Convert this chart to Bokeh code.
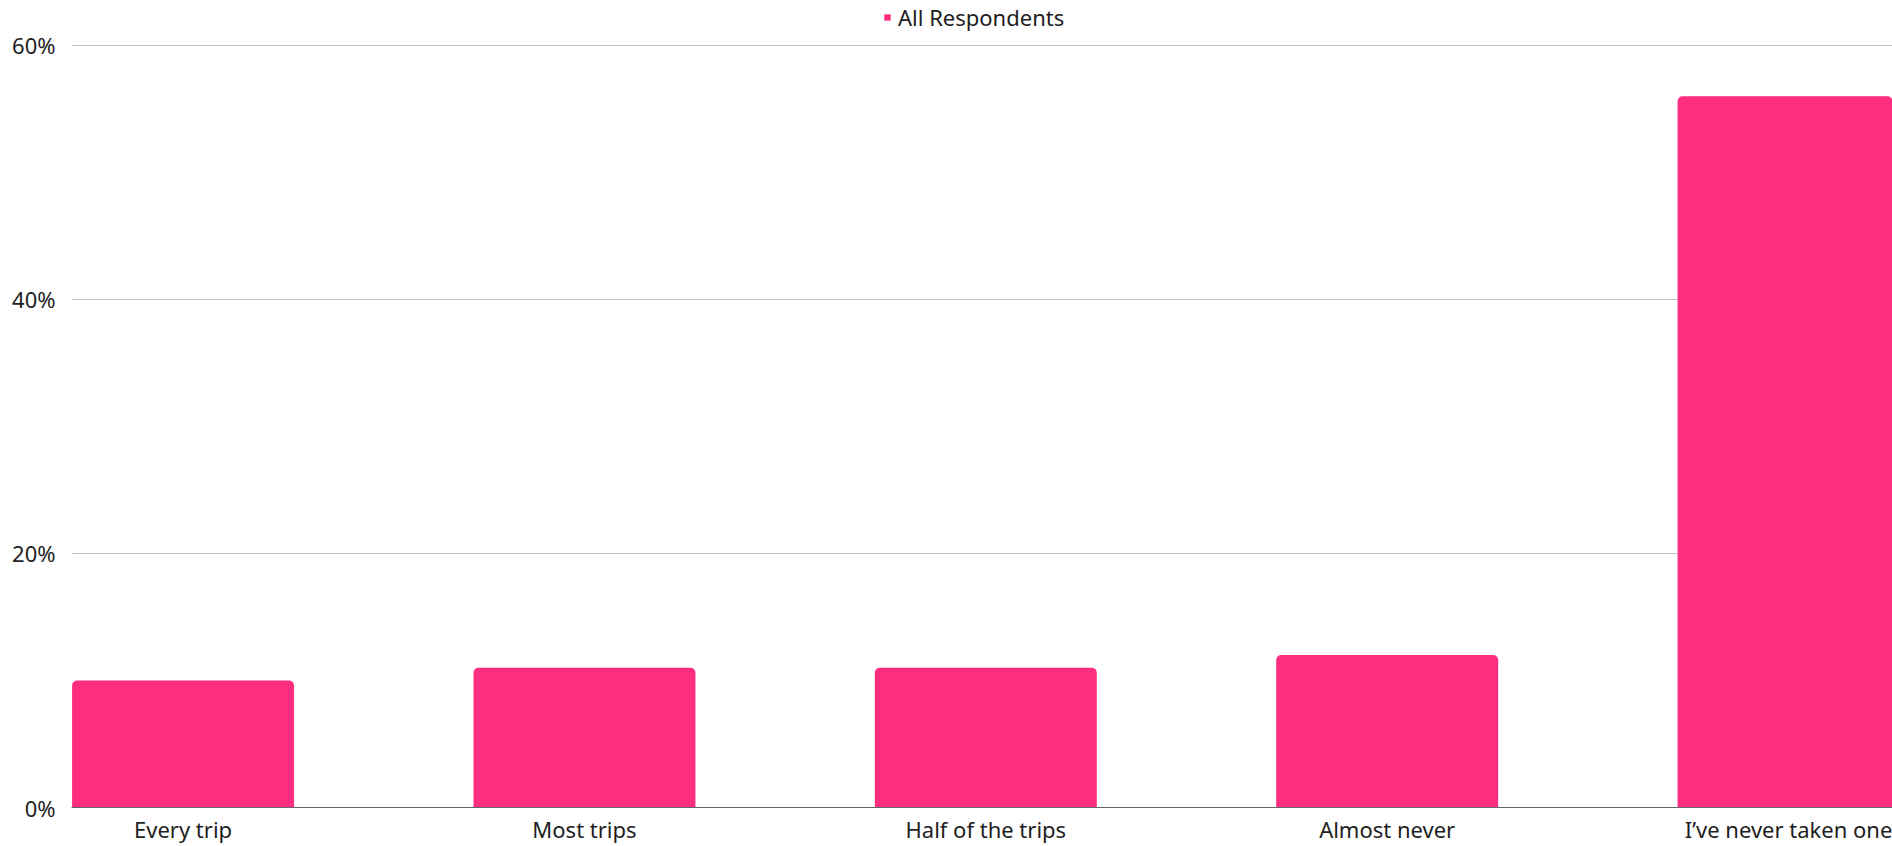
from bokeh.plotting import figure
from bokeh.models import ColumnDataSource, Range1d, FixedTicker, Legend, LegendItem
from bokeh.embed import file_html
from bokeh.resources import INLINE

categories = ["Every trip", "Most trips", "Half of the trips", "Almost never", "I\u2019ve never taken one"]
values = [10, 11, 11, 12, 56]
series_name = "All Respondents"
y_ticks = [0, 20, 40, 60]

FONT = "Noto Sans"
FS = "22px"
PINK = "#ff2d80"
TEXT = "#1e1e1e"

src = ColumnDataSource(dict(x=list(range(len(categories))), top=values, cat=categories))

p = figure(width=1892, height=846, output_backend="svg", toolbar_location=None,
           x_range=Range1d(-0.278, 4.259), y_range=Range1d(0, 63.54),
           min_border_left=71, min_border_right=0, min_border_top=0, min_border_bottom=39)
p.outline_line_color = None
p.background_fill_color = "white"
p.border_fill_color = "white"

r = p.vbar(x="x", top="top", width=0.553, bottom=0, source=src, fill_color=PINK, line_color=None,
           border_radius=(5, 5, 0, 0))

# axes
p.xaxis.ticker = FixedTicker(ticks=list(range(len(categories))))
p.xaxis.major_label_overrides = {i: c for i, c in enumerate(categories)}
p.xaxis.major_tick_line_color = None
p.xaxis.major_tick_out = 0
p.xaxis.major_tick_in = 0
p.xaxis.minor_tick_line_color = None
p.xaxis.minor_tick_out = 0
p.xaxis.axis_line_color = "#666666"
p.xaxis.axis_line_width = 1
p.xaxis.major_label_text_font = FONT
p.xaxis.major_label_text_font_size = FS
p.xaxis.major_label_text_color = TEXT
p.xaxis.major_label_standoff = 6

p.yaxis.ticker = FixedTicker(ticks=y_ticks)
p.yaxis.major_label_overrides = {t: f"{t}%" for t in y_ticks}
p.yaxis.major_tick_line_color = None
p.yaxis.major_tick_out = 0
p.yaxis.major_tick_in = 0
p.yaxis.minor_tick_line_color = None
p.yaxis.minor_tick_out = 0
p.yaxis.axis_line_color = None
p.yaxis.major_label_text_font = FONT
p.yaxis.major_label_text_font_size = FS
p.yaxis.major_label_text_color = TEXT
p.yaxis.major_label_standoff = 16

p.xgrid.grid_line_color = None
p.ygrid.grid_line_color = "#c2c2c2"
p.ygrid.grid_line_width = 1
p.ygrid.ticker = FixedTicker(ticks=y_ticks)

legend = Legend(items=[LegendItem(label=series_name, renderers=[r])],
                location=(812, 775), orientation="horizontal",
                glyph_width=8, glyph_height=8, label_standoff=7,
                padding=0, margin=0, spacing=0,
                label_text_font=FONT, label_text_font_size=FS, label_text_color=TEXT,
                border_line_color=None, background_fill_alpha=0)
p.add_layout(legend, "center")

open("out.html", "w").write(file_html(p, INLINE))
